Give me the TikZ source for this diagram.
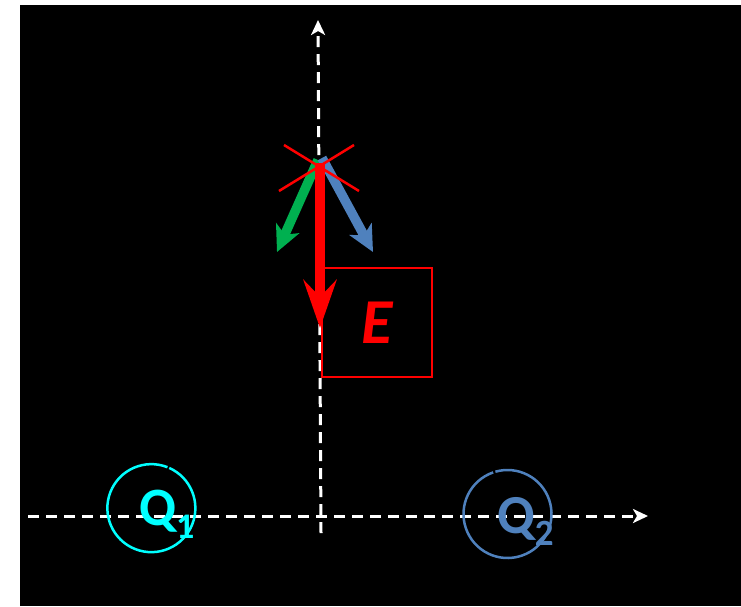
\documentclass[tikz,border=0pt]{standalone}
\usepackage{fontspec}
\setmainfont{Carlito}
\usetikzlibrary{arrows.meta}
\definecolor{qblue}{HTML}{4F81BD}
\definecolor{egreen}{HTML}{00B050}
\definecolor{qcyan}{HTML}{00FFFF}
\begin{document}
\begin{tikzpicture}[x=1pt,y=1pt,
  axis/.style={white, line width=3pt, dash pattern=on 11pt off 7pt,
    -{Stealth[length=15pt,width=14pt,inset=4pt]}},
  force/.style={line width=9.5pt, -{Stealth[length=26pt,width=25pt,inset=7pt]}},
  crossline/.style={red, line width=2.5pt},
  chargering/.style={circle, minimum size=88pt, inner sep=0pt, outer sep=0pt},
  chargelabel/.style={anchor=base west, inner sep=0pt}]
\fill[white] (0,0) rectangle (741,-606);
\fill[black] (20,-5) rectangle (741,-606);
\useasboundingbox (0,0) rectangle (741,-606);
% axes
\coordinate (xstart) at (28,-516);
\coordinate (xend) at (648,-516);
\coordinate (ystart) at (321,-533);
\coordinate (yend) at (318,-20);
\draw[axis] (xstart) -- (xend);
\draw[axis] (ystart) -- (yend);
% charges
\node[chargering] (q1) at (151,-508) {};
\draw[qcyan, line width=2.5pt] (q1.68.5) arc[start angle=68.5, end angle=426, radius=44pt];
\node[chargelabel, text=qcyan, font=\fontsize{54}{54}\selectfont\bfseries] (q1label) at (139,-525)
  {Q\raisebox{-13pt}{\fontsize{36}{36}\selectfont 1}};
\node[chargering] (q2) at (507.5,-514) {};
\draw[qblue, line width=2.5pt] (q2.109) arc[start angle=109, end angle=466, radius=44pt];
\node[chargelabel, text=qblue, font=\fontsize{55}{55}\selectfont\bfseries] (q2label) at (497,-533)
  {Q\raisebox{-12pt}{\fontsize{37}{37}\selectfont 2}};
% field box
\node[draw=red, line width=2.5pt, minimum width=110pt, minimum height=109pt, inner sep=0pt,
  text=red, font=\fontsize{64}{64}\selectfont\bfseries\itshape] (E) at (377,-322.5) {E};
% force arrows
\coordinate (P) at (320,-163);
\coordinate (gstart) at (318,-160);
\coordinate (gtip) at (277,-252);
\coordinate (bstart) at (322,-158);
\coordinate (btip) at (373,-252);
\coordinate (rtip) at (320,-328);
\draw[force, egreen] (gstart) -- (gtip);
\draw[force, qblue] (bstart) -- (btip);
\draw[red, line width=10pt, -{Stealth[length=48pt,width=33pt,inset=17pt]}] (P) -- (rtip);
% cross at point
\coordinate (c1a) at (284,-145);
\coordinate (c1b) at (359,-191);
\coordinate (c2a) at (354,-145);
\coordinate (c2b) at (279,-191);
\draw[crossline] (c1a) -- (c1b);
\draw[crossline] (c2a) -- (c2b);
\end{tikzpicture}
\end{document}
